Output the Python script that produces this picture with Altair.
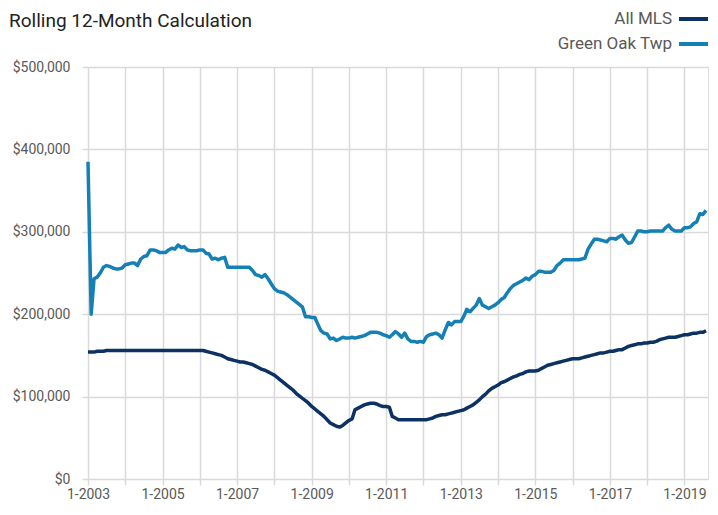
import altair as alt
import pandas as pd

# ---- data (thousands of dollars, monthly Jan 2003 .. Aug 2019) ----
series_names = ["All MLS", "Green Oak Twp"]
series_colors = ["#0b3262", "#1480b6"]

all_mls_k = (
    [154, 154, 154, 155, 155, 155, 156, 156, 156, 156, 156, 156]     # 2003
    + [156, 156, 156, 156, 156, 156, 156, 156, 156, 156, 156, 156]   # 2004
    + [156, 156, 156, 156, 156, 156, 156, 156, 156, 156, 156, 156]   # 2005
    + [156, 156, 155, 154, 153, 152, 151, 150, 148, 146, 145, 144]   # 2006
    + [143, 142, 142, 141, 140, 139, 137, 135, 133, 132, 130, 128]   # 2007
    + [126, 123, 120, 117, 114, 111, 108, 104, 101, 98, 95, 92]      # 2008
    + [88, 85, 82, 79, 76, 72, 68, 66, 64, 63, 65, 68]               # 2009
    + [71, 73, 84, 86, 88, 90, 91, 92, 92, 91, 89, 88]               # 2010
    + [88, 87, 76, 74, 72, 72, 72, 72, 72, 72, 72, 72]               # 2011
    + [72, 72, 73, 74, 76, 77, 78, 78, 79, 80, 81, 82]               # 2012
    + [83, 84, 86, 88, 90, 93, 96, 100, 103, 107, 110, 112]          # 2013
    + [114, 117, 118, 120, 122, 124, 125, 127, 128, 130, 131, 131]   # 2014
    + [131, 132, 134, 136, 138, 139, 140, 141, 142, 143, 144, 145]   # 2015
    + [146, 146, 146, 147, 148, 149, 150, 151, 152, 153, 153, 154]   # 2016
    + [155, 155, 156, 157, 157, 159, 161, 162, 163, 164, 164, 165]   # 2017
    + [165, 166, 166, 167, 169, 170, 171, 172, 172, 172, 173, 174]   # 2018
    + [175, 175, 176, 177, 177, 178, 178, 180]                       # 2019
)

green_oak_k = (
    [385, 200, 243, 245, 250, 257, 259, 258, 256, 255, 255, 256]     # 2003
    + [260, 261, 262, 262, 259, 267, 270, 271, 278, 278, 277, 275]   # 2004
    + [275, 275, 278, 280, 279, 284, 281, 282, 278, 277, 277, 277]   # 2005
    + [278, 278, 274, 273, 267, 268, 266, 268, 269, 257, 257, 257]   # 2006
    + [257, 257, 257, 257, 257, 253, 248, 247, 245, 248, 243, 237]   # 2007
    + [231, 228, 227, 226, 224, 221, 218, 215, 212, 209, 197, 197]   # 2008
    + [196, 196, 188, 180, 177, 176, 170, 171, 168, 170, 172, 171]   # 2009
    + [171, 172, 171, 172, 173, 174, 176, 178, 178, 178, 177, 175]   # 2010
    + [174, 172, 175, 179, 176, 172, 177, 170, 167, 167, 166, 167]   # 2011
    + [166, 173, 175, 176, 177, 175, 171, 181, 190, 187, 191, 191]   # 2012
    + [191, 198, 206, 203, 207, 211, 219, 211, 209, 207, 209, 211]   # 2013
    + [214, 218, 220, 226, 231, 235, 237, 239, 241, 244, 242, 246]   # 2014
    + [248, 252, 252, 251, 251, 251, 253, 259, 262, 266, 266, 266]   # 2015
    + [266, 266, 266, 267, 268, 279, 285, 291, 291, 290, 289, 288]   # 2016
    + [292, 292, 291, 294, 296, 290, 286, 287, 294, 301, 301, 300]   # 2017
    + [300, 301, 301, 301, 301, 301, 305, 308, 303, 301, 301, 301]   # 2018
    + [305, 305, 306, 310, 312, 322, 321, 326]                       # 2019
)

months = pd.date_range("2003-01-01", periods=len(all_mls_k), freq="MS").strftime("%Y-%m-%dT00:00:00").tolist()

y_ticks = [0, 100000, 200000, 300000, 400000, 500000]
x_tick_years = list(range(2003, 2020))

df = pd.DataFrame({
    "date": months * 2,
    "value": [v * 1000 for v in all_mls_k] + [v * 1000 for v in green_oak_k],
    "series": [series_names[0]] * len(all_mls_k) + [series_names[1]] * len(green_oak_k),
})

FONT = "Roboto"
GRID = "#d9d9d9"
TEXT = "#595959"
W, H = 620, 412

lines = alt.Chart(df).mark_line(strokeWidth=3.5, strokeJoin="round").encode(
    x=alt.X(
        "date:T",
        scale=alt.Scale(domain=[alt.DateTime(year=2003, month=1, date=1),
                                alt.DateTime(year=2019, month=8, date=20)]),
        axis=alt.Axis(
            values=[alt.DateTime(year=y, month=1, date=1) for y in x_tick_years],
            format="%Y",
            labelExpr="toNumber(datum.label) % 2 == 1 ? '1-' + datum.label : ''",
            title=None, domain=False, grid=True, gridColor=GRID, gridWidth=1.5,
            tickColor=GRID, tickWidth=1.5, tickSize=6, labelPadding=2,
            labelFontSize=14, labelColor=TEXT, labelFont=FONT,
            labelOverlap=False, labelFlush=False, labelBound=False,
        ),
    ),
    y=alt.Y(
        "value:Q",
        scale=alt.Scale(domain=[0, 500000], nice=False),
        axis=alt.Axis(
            values=y_ticks, format="$,.0f", title=None, domain=False,
            grid=True, gridColor=GRID, gridWidth=1.5,
            tickColor=GRID, tickWidth=1.5, tickSize=6, labelPadding=12,
            labelFontSize=14, labelColor=TEXT, labelFont=FONT,
        ),
    ),
    color=alt.Color("series:N", scale=alt.Scale(domain=series_names, range=series_colors), legend=None),
)

title_text = alt.Chart(pd.DataFrame({"t": ["Rolling 12-Month Calculation"]})).mark_text(
    align="left", baseline="top", fontSize=19, font=FONT, color="#222222"
).encode(text="t:N", x=alt.value(-79), y=alt.value(-55))

legend_y = [-48, -23]
legend_layers = []
for name, col, ly in zip(series_names, series_colors, legend_y):
    ldf = pd.DataFrame({"series": [name]})
    legend_layers.append(
        alt.Chart(ldf).mark_text(align="right", baseline="middle", fontSize=17, font=FONT, color=TEXT)
        .encode(text="series:N", x=alt.value(W - 36), y=alt.value(ly))
    )
    legend_layers.append(
        alt.Chart(ldf).mark_rule(strokeWidth=4, color=col)
        .encode(x=alt.value(W - 29), x2=alt.value(W), y=alt.value(ly))
    )

chart = alt.layer(lines, title_text, *legend_layers).properties(
    width=W, height=H,
    padding={"left": 80, "top": 59, "right": 2, "bottom": 28},
    autosize=alt.AutoSizeParams(type="none"),
).configure_view(stroke=None).configure(background="white")

chart.save("out.html", embed_options={"renderer": "svg", "actions": False})
